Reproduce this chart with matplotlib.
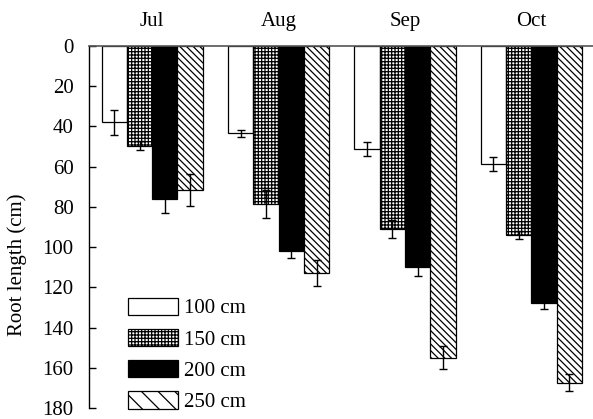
import matplotlib
matplotlib.use("Agg")
import matplotlib.pyplot as plt
import numpy as np
from matplotlib.patches import Patch

plt.rcParams['font.family'] = ['Liberation Serif', 'DejaVu Serif']
plt.rcParams['hatch.linewidth'] = 0.9

months = ["Jul", "Aug", "Sep", "Oct"]
series = ["100 cm", "150 cm", "200 cm", "250 cm"]
values = {
    "100 cm": [38, 43.5, 51, 58.5],
    "150 cm": [49.5, 78.5, 91, 94],
    "200 cm": [76, 102, 110, 128],
    "250 cm": [71.5, 113, 155, 167.5],
}
errors = {
    "100 cm": [6.2, 1.8, 3.5, 3.5],
    "150 cm": [2.3, 7.0, 4.7, 2.0],
    "200 cm": [7.0, 3.6, 4.3, 3.0],
    "250 cm": [8.0, 6.5, 5.7, 4.2],
}
yticks = [0, 20, 40, 60, 80, 100, 120, 140, 160, 180]

styles = {
    "100 cm": dict(facecolor="white", hatch=None),
    "150 cm": dict(facecolor="white", hatch="+++++"),
    "200 cm": dict(facecolor="black", hatch=None),
    "250 cm": dict(facecolor="white", hatch="\\\\\\\\\\"),
}
legend_hatch = {"100 cm": None, "150 cm": "+++++", "200 cm": None, "250 cm": "\\\\"}

FS = 15

fig = plt.figure(figsize=(5.93, 4.19), dpi=100)
ax = fig.add_axes([89/593, 1-408/419, 505.6/593, 362/419])

x = np.arange(len(months))
w = 0.2
for i, s in enumerate(series):
    pos = x - 0.3 + i * w
    ax.bar(pos, values[s], width=w, color=styles[s]["facecolor"], hatch=styles[s]["hatch"],
           edgecolor="black", linewidth=0.9, zorder=2)
    ax.errorbar(pos, values[s], yerr=errors[s], fmt="none", ecolor="black",
                elinewidth=1.0, capsize=3, capthick=1.0, zorder=3)

ax.set_xlim(-0.5, 3.5)
ax.set_ylim(180, 0)
ax.set_yticks(yticks)
ax.set_xticks(x)
ax.set_xticklabels(months)
ax.xaxis.tick_top()
ax.tick_params(axis="x", length=0, pad=11, labelsize=FS)
ax.tick_params(axis="y", direction="in", length=5, width=1, pad=11, labelsize=FS)
for sp in ["right", "bottom"]:
    ax.spines[sp].set_visible(False)
ax.spines["top"].set_linewidth(1.2)
ax.spines["top"].set_color("#555555")
ax.spines["left"].set_linewidth(1.0)
ax.set_ylabel("Root length (cm)", fontsize=FS)
ax.yaxis.set_label_coords(-0.122, 0.395)

handles = [Patch(facecolor=styles[s]["facecolor"], hatch=legend_hatch[s], edgecolor="black", linewidth=0.9)
           for s in series]
ax.legend(handles, series, loc="upper left", bbox_to_anchor=(0.077, 0.305), frameon=False,
          fontsize=FS, handlelength=2.4, handleheight=0.9, handletextpad=0.3,
          labelspacing=0.5, borderpad=0, borderaxespad=0)

fig.savefig("out.png", dpi=100)
